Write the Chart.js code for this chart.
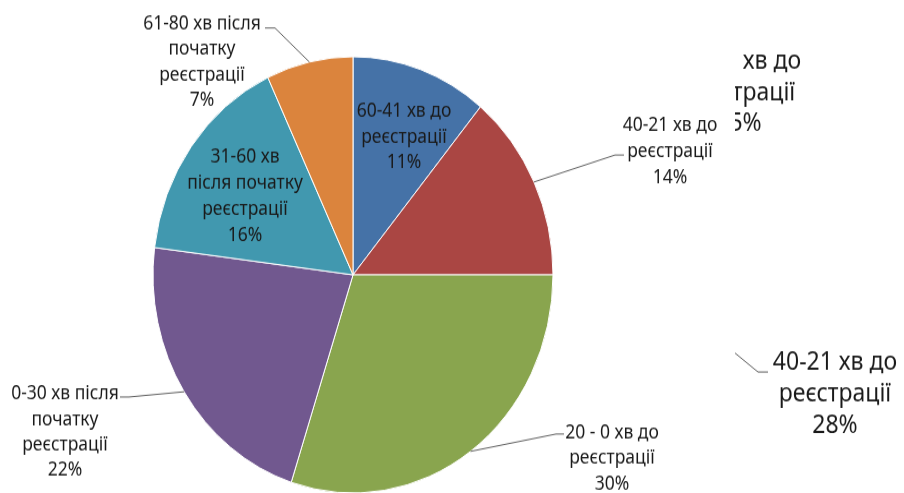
<!DOCTYPE html>
<html>
<head>
<meta charset="utf-8">
<script src="https://cdn.jsdelivr.net/npm/chart.js@4/dist/chart.umd.min.js"></script>
<style>
  html, body { margin: 0; padding: 0; background: #fff; overflow: hidden; }
  #wrap { width: 904px; height: 493px; overflow: hidden; }
  #pie { display: block; transform-origin: 0 0; }
</style>
</head>
<body>
<div id="wrap"><canvas id="pie" width="904" height="452"></canvas></div>
<script>
// slice names (already split into lines) and shares in %
var categories = [
  ['60-41 хв до', 'реєстрації'],
  ['40-21 хв до', 'реєстрації'],
  ['20 - 0 хв до', 'реєстрації'],
  ['0-30 хв після', 'початку', 'реєстрації'],
  ['31-60 хв', 'після початку', 'реєстрації'],
  ['61-80 хв після', 'початку', 'реєстрації']
];
var shares = [11, 14, 30, 22, 16, 7];
var colors = ['#4572a7', '#aa4643', '#89a54e', '#71588f', '#4198af', '#db843d'];

// leftover labels of the neighbouring chart on the slide
var strayLines = ['40-21 хв до', 'реєстрації'];
var strayShare = 28;
var clippedLines = ['60-41 хв до', 'реєстрації'];
var clippedShare = 15;

// the picture is stretched a bit vertically
var SY = 493 / 452;
document.getElementById('pie').style.transform = 'scaleY(' + SY + ')';
function py(y) { return y / SY; }

var FONT = '17.5px "Noto Sans"';
var BIG_FONT = '23px "Noto Sans"';
var TEXT = '#1a1a1a';
var LINE = '#5f5f5f';

// label block centre (first line) and leader elbow/tail, in page pixels
var labelPos = [
  { x: 404, y: 111, step: 26 },
  { x: 670, y: 125, step: 26.5, elbow: [615, 155], tail: [624, 155] },
  { x: 612, y: 433, step: 25.5, elbow: [556, 434], tail: [564, 434] },
  { x: 65,  y: 394, step: 25.5, elbow: [129, 397], tail: [120, 397] },
  { x: 245, y: 157, step: 26.3 },
  { x: 202, y: 24,  step: 25.5, elbow: [275, 28], tail: [265, 28] }
];

function drawBlock(ctx, lines, x, y, step, font) {
  ctx.font = font;
  ctx.fillStyle = TEXT;
  ctx.textAlign = 'center';
  ctx.textBaseline = 'middle';
  for (var i = 0; i < lines.length; i++) {
    ctx.fillText(lines[i], x, py(y + i * step));
  }
}

function leader(ctx, pts) {
  ctx.beginPath();
  ctx.moveTo(pts[0][0], pts[0][1]);
  for (var i = 1; i < pts.length; i++) ctx.lineTo(pts[i][0], pts[i][1]);
  ctx.strokeStyle = LINE;
  ctx.lineWidth = 1;
  ctx.stroke();
}

var sliceLabels = {
  id: 'sliceLabels',
  afterDraw: function(chart) {
    var ctx = chart.ctx;
    var meta = chart.getDatasetMeta(0);
    ctx.save();
    meta.data.forEach(function(arc, i) {
      var p = arc.getProps(['x', 'y', 'startAngle', 'endAngle', 'outerRadius'], true);
      var mid = (p.startAngle + p.endAngle) / 2;
      var pos = labelPos[i];
      if (pos.elbow) {
        leader(ctx, [
          [p.x + Math.cos(mid) * p.outerRadius, p.y + Math.sin(mid) * p.outerRadius],
          [pos.elbow[0], py(pos.elbow[1])],
          [pos.tail[0], py(pos.tail[1])]
        ]);
      }
      var lines = categories[i].concat([shares[i] + '%']);
      drawBlock(ctx, lines, pos.x, pos.y, pos.step, FONT);
    });

    // neighbour chart remnants on the right
    leader(ctx, [[735, py(353)], [758, py(372)], [768, py(372)]]);
    drawBlock(ctx, strayLines.concat([strayShare + '%']), 835, 363, 31.5, BIG_FONT);

    ctx.beginPath();
    ctx.rect(735, 0, 200, chart.height);
    ctx.clip();
    drawBlock(ctx, clippedLines.concat([clippedShare + '%']), 739, 62, 31, BIG_FONT);
    ctx.restore();
  }
};

var pieChart = new Chart(document.getElementById('pie').getContext('2d'), {
  type: 'pie',
  data: {
    labels: categories,
    datasets: [{
      data: shares,
      backgroundColor: colors,
      borderColor: '#ffffff',
      borderWidth: 1
    }]
  },
  options: {
    responsive: false,
    animation: false,
    radius: 200,
    layout: { padding: { left: 153, right: 351, top: 52, bottom: 0 } },
    plugins: {
      legend: { display: false },
      tooltip: { enabled: false }
    }
  },
  plugins: [sliceLabels]
});
</script>
</body>
</html>
